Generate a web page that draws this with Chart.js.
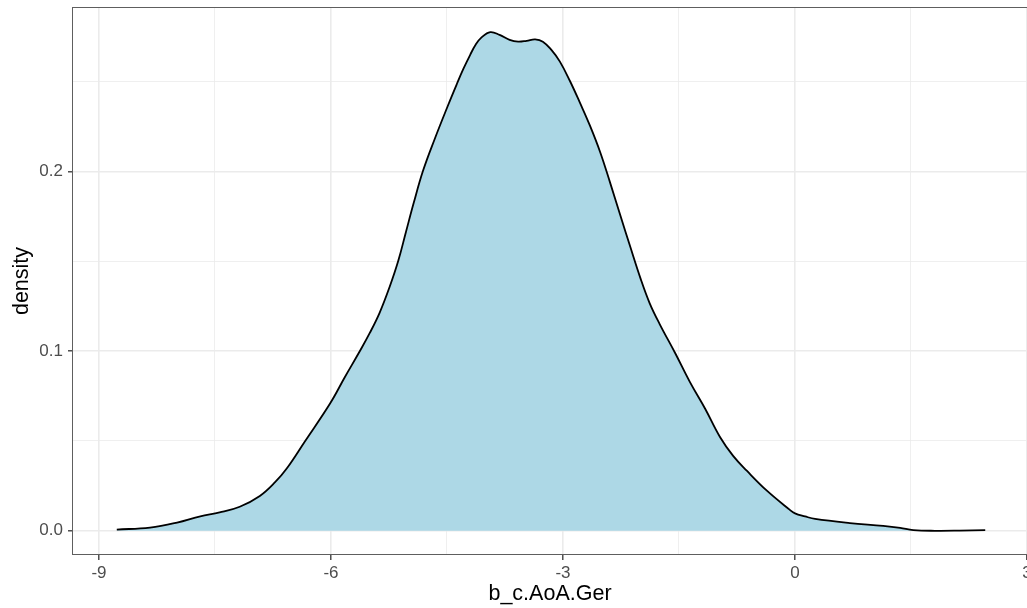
<!DOCTYPE html>
<html>
<head>
<meta charset="utf-8">
<title>density b_c.AoA.Ger</title>
<script src="https://cdn.jsdelivr.net/npm/chart.js@4"></script>
<style>
  html, body { margin: 0; padding: 0; background: #ffffff; }
  #wrap { width: 1027px; height: 608px; position: relative; }
</style>
</head>
<body>
<div id="wrap"><canvas id="densityChart"></canvas></div>
<script>
// --- Datos ---
const bValues = [-8.77, -8.34, -7.99, -7.69, -7.44, -7.18, -6.92, -6.72, -6.57, -6.34,
  -6.01, -5.82, -5.63, -5.50, -5.37, -5.24, -5.13, -5.03, -4.93, -4.81,
  -4.66, -4.49, -4.37, -4.29, -4.20, -4.13, -4.05, -3.94, -3.82, -3.69,
  -3.58, -3.47, -3.36, -3.26, -3.15, -3.04, -2.91, -2.78, -2.65, -2.52,
  -2.39, -2.26, -2.13, -2.00, -1.88, -1.75, -1.55, -1.36, -1.16, -0.97,
  -0.80, -0.62, -0.36, -0.07, 0.00, 0.13, 0.26, 0.71, 1.14, 1.36,
  1.53, 1.81, 2.13, 2.46];
const densityValues = [0.0007, 0.0018, 0.0046, 0.0081, 0.0102, 0.0134, 0.0194, 0.0272, 0.0348, 0.0496,
  0.0710, 0.0856, 0.0998, 0.1100, 0.1215, 0.1360, 0.1503, 0.1665, 0.1826, 0.2004,
  0.2180, 0.2365, 0.2490, 0.2570, 0.2650, 0.2706, 0.2748, 0.2776, 0.2761, 0.2733,
  0.2723, 0.2728, 0.2736, 0.2723, 0.2677, 0.2612, 0.2504, 0.2382, 0.2254, 0.2109,
  0.1937, 0.1758, 0.1581, 0.1408, 0.1268, 0.1151, 0.0990, 0.0829, 0.0678, 0.0522,
  0.0417, 0.0333, 0.0222, 0.0118, 0.0097, 0.0080, 0.0066, 0.0043, 0.0027, 0.0016,
  0.0004, 0.0000, 0.0001, 0.0004];

const xMajorTicks = [-9, -6, -3, 0, 3];
const xMinorTicks = [-7.5, -4.5, -1.5, 1.5];
const yMajorTicks = [0, 0.1, 0.2];
const yMinorTicks = [0.05, 0.15, 0.25];

const xTitle = 'b_c.AoA.Ger';
const yTitle = 'density';

// --- Estilo tipo theme_bw ---
const FONT = '"Liberation Sans", Arial, Helvetica, sans-serif';
const GRID = '#ebebeb';
const TICK_TEXT = '#4d4d4d';
const DARK = '#333333';

function allTicks(major, minor) {
  return major.concat(minor).sort((a, b) => a - b).map(v => ({ value: v }));
}

// Marco del panel
const panelBorder = {
  id: 'panelBorder',
  afterDatasetsDraw(chart) {
    const { ctx, chartArea: a } = chart;
    ctx.save();
    ctx.strokeStyle = '#5e5e5e';
    ctx.lineWidth = 1;
    ctx.strokeRect(Math.round(a.left) - 0.5, Math.round(a.top) + 0.5,
      Math.round(a.right - a.left) + 1, Math.round(a.bottom - a.top) - 1);
    ctx.restore();
  }
};

const points = bValues.map((x, i) => ({ x: x, y: densityValues[i] }));

new Chart(document.getElementById('densityChart'), {
  type: 'line',
  data: {
    datasets: [{
      data: points,
      borderColor: '#000000',
      borderWidth: 1.8,
      backgroundColor: '#add8e6',
      fill: 'origin',
      pointRadius: 0,
      tension: 0.4
    }]
  },
  options: {
    responsive: true,
    maintainAspectRatio: false,
    animation: false,
    layout: { padding: { top: 7, right: 0, left: 0, bottom: 0 } },
    plugins: {
      legend: { display: false },
      tooltip: { enabled: false }
    },
    scales: {
      x: {
        type: 'linear',
        min: -9.336,
        max: 3.0,
        afterBuildTicks: s => { s.ticks = allTicks(xMajorTicks, xMinorTicks); },
        afterFit: s => { s.height = 53; s.paddingRight = 0; s.paddingLeft = 0; },
        border: { display: false },
        grid: {
          color: c => GRID,
          lineWidth: c => xMajorTicks.includes(c.tick.value) ? 1.6 : 0.8,
          tickColor: c => xMajorTicks.includes(c.tick.value) ? DARK : 'rgba(0,0,0,0)',
          tickLength: 5,
          tickWidth: 1.3
        },
        ticks: {
          autoSkip: false,
          maxRotation: 0,
          padding: 3,
          color: TICK_TEXT,
          font: { family: FONT, size: 17 },
          callback: v => xMajorTicks.includes(v) ? String(v) : ''
        },
        title: {
          display: true,
          text: xTitle,
          color: '#000000',
          font: { family: FONT, size: 21.5 },
          padding: { top: 0, bottom: 1 }
        }
      },
      y: {
        type: 'linear',
        min: -0.01347,
        max: 0.2916,
        afterBuildTicks: s => { s.ticks = allTicks(yMajorTicks, yMinorTicks); },
        afterFit: s => { s.width = 73; s.paddingTop = 0; s.paddingBottom = 0; },
        border: { display: false },
        grid: {
          color: c => GRID,
          lineWidth: c => yMajorTicks.includes(c.tick.value) ? 1.6 : 0.8,
          tickColor: c => yMajorTicks.includes(c.tick.value) ? DARK : 'rgba(0,0,0,0)',
          tickLength: 5,
          tickWidth: 1.3
        },
        ticks: {
          autoSkip: false,
          padding: 5,
          color: TICK_TEXT,
          font: { family: FONT, size: 17 },
          callback: v => yMajorTicks.includes(v) ? v.toFixed(1) : ''
        },
        title: {
          display: true,
          text: yTitle,
          color: '#000000',
          font: { family: FONT, size: 21.5 },
          padding: { top: 9, bottom: 0 }
        }
      }
    }
  },
  plugins: [panelBorder]
});
</script>
</body>
</html>
